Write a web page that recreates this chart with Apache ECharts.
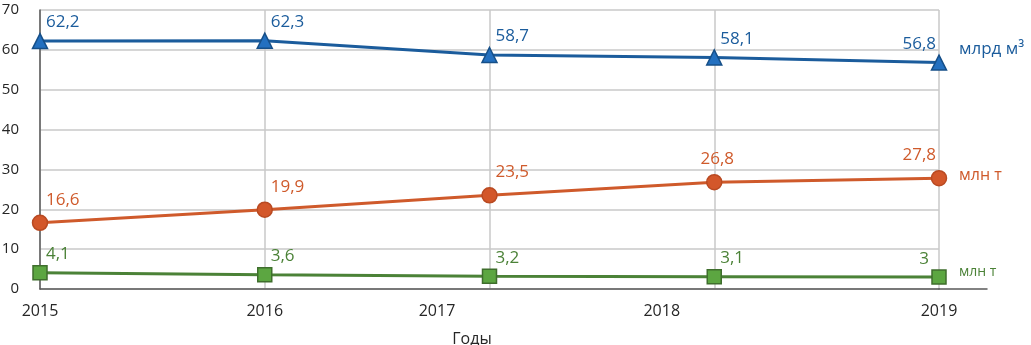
<!DOCTYPE html>
<html><head><meta charset="utf-8">
<script src="https://cdn.jsdelivr.net/npm/echarts@6/dist/echarts.min.js"></script>
<style>html,body{margin:0;padding:0;background:#fff}#c{width:1031px;height:345px}</style>
</head><body><div id="c"></div>
<script>
const years = [2015, 2016, 2017, 2018, 2019];
const gas = [62.2, 62.3, 58.7, 58.1, 56.8];       // млрд м³
const oil = [16.6, 19.9, 23.5, 26.8, 27.8];       // млн т
const coal = [4.1, 3.6, 3.2, 3.1, 3.0];           // млн т
const yTicks = [0, 10, 20, 30, 40, 50, 60, 70];
const unitGas = 'млрд м³', unitOil = 'млн т', unitCoal = 'млн т';
const xTitle = 'Годы';

const FONT = '"Open Sans", sans-serif';
const fmt = v => String(v).replace('.', ',');

function mkData(vals, labelOverrides) {
  return years.map((y, i) => {
    const last = i === years.length - 1;
    let label = last ? { align: 'right', offset: [-3, 0] } : { align: 'left', offset: [6, 0] };
    if (labelOverrides && labelOverrides[i]) label = labelOverrides[i];
    return { value: [y, vals[i]], label };
  });
}

function series(name, vals, color, symbol, size, fill, border, unit, endOff, endSize, labDist, overrides) {
  return {
    name, type: 'line', data: mkData(vals, overrides),
    xAxisIndex: 0, yAxisIndex: 0,
    symbol, symbolSize: size, showAllSymbol: true,
    lineStyle: { color, width: 3 },
    itemStyle: { color: fill, borderColor: border, borderWidth: 1.5 },
    label: {
      show: true, position: 'top', distance: labDist,
      color, fontFamily: FONT, fontSize: 17,
      formatter: p => fmt(p.value[1])
    },
    endLabel: {
      show: true, formatter: unit, color, fontFamily: FONT, fontSize: endSize,
      distance: 20, offset: endOff
    },
    emphasis: { disabled: true },
    animation: false, z: 3
  };
}

const chart = echarts.init(document.getElementById('c'), null, { renderer: 'canvas' });
chart.setOption({
  animation: false,
  grid: [
    { left: 40, top: 10, width: 899, height: 279, containLabel: false, outerBoundsMode: 'none' },
    { left: 939, top: 10, width: 48, height: 279, containLabel: false, outerBoundsMode: 'none' }
  ],
  xAxis: [{
    type: 'value', gridIndex: 0, min: 2015, max: 2019, interval: 1,
    axisLine: { show: true, lineStyle: { color: '#5a5a5a', width: 1.5 } },
    axisTick: { show: false },
    splitLine: { show: true, lineStyle: { color: '#c8c8c8', width: 1.5 } },
    axisLabel: {
      color: '#262626', fontFamily: FONT, fontSize: 16, margin: 14,
      formatter: v => (v === 2017 || v === 2018) ? '{s|' + v + '}' : String(v),
      rich: { s: { color: '#262626', fontFamily: FONT, fontSize: 16, padding: [0, 105, 0, 0] } }
    },
    name: xTitle, nameLocation: 'middle', nameGap: 42,
    nameTextStyle: { color: '#262626', fontFamily: FONT, fontSize: 16, padding: [0, 35, 0, 0] }
  }, {
    type: 'value', gridIndex: 1, min: 0, max: 1,
    axisLine: { show: true, lineStyle: { color: '#5a5a5a', width: 1.5 } },
    axisTick: { show: false }, axisLabel: { show: false }, splitLine: { show: false }
  }],
  yAxis: [{
    type: 'value', gridIndex: 0, min: yTicks[0], max: yTicks[yTicks.length - 1], interval: 10,
    axisLine: { show: true, lineStyle: { color: '#5a5a5a', width: 1.5 } },
    axisTick: { show: false },
    splitLine: { show: true, lineStyle: { color: '#c8c8c8', width: 1.5 } },
    axisLabel: { color: '#262626', fontFamily: FONT, fontSize: 15, margin: 21 }
  }, {
    type: 'value', gridIndex: 1, min: 0, max: 1, show: false
  }],
  series: [
    series('gas', gas, '#1b5c9c', 'triangle', 15, '#2370c0', '#164f88', unitGas, [0, -13], 17, 2, null),
    series('oil', oil, '#cf5a2b', 'circle', 15, '#d3572a', '#b94a22', unitOil, [0, -3], 16, 6,
      { 3: { align: 'center', offset: [3, 0] } }),
    series('coal', coal, '#4b8237', 'rect', 14, '#5ca641', '#3f6e2d', unitCoal, [0, -5], 14, 2,
      { 4: { align: 'right', offset: [-10, 0] } })
  ]
});
</script>
</body></html>
